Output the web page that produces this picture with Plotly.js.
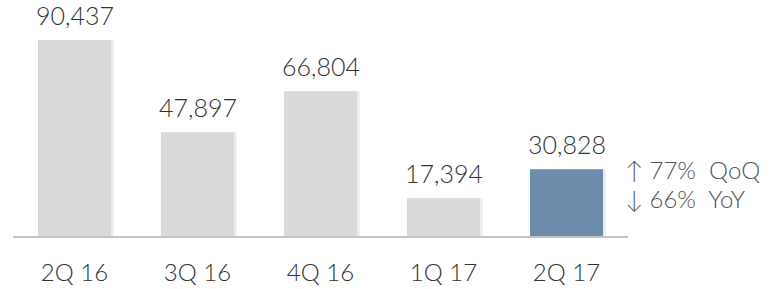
<!DOCTYPE html>
<html><head><meta charset="utf-8">
<script src="https://cdn.plot.ly/plotly-3.0.1.min.js"></script>
<style>body{margin:0;background:#fff}#c{width:776px;height:289px}</style>
</head><body><div id="c"></div>
<script>
const quarters = ["2Q 16", "3Q 16", "4Q 16", "1Q 17", "2Q 17"];
const values = [90437, 47897, 66804, 17394, 30828];
const barColors = ["#d9d9d9", "#d9d9d9", "#d9d9d9", "#d9d9d9", "#6e8daa"];
const changeNotes = ["↑ 77%  QoQ", "↓ 66%  YoY"];

const FONT = "Lato, 'Open Sans', sans-serif";
const fmt = v => v.toLocaleString("en-US");

const shadow = {
  type: "bar", x: quarters, y: values,
  marker: {color: "rgba(0,0,0,0.07)", line: {width: 0}},
  offset: -0.29, width: 0.61,
  hoverinfo: "skip", showlegend: false
};
const bars = {
  type: "bar", x: quarters, y: values,
  marker: {color: barColors, line: {width: 0}},
  width: 0.594,
  hoverinfo: "skip", showlegend: false
};

const annotations = quarters.map((q, i) => ({
  x: q, y: values[i], xref: "x", yref: "y",
  text: fmt(values[i]), showarrow: false,
  yanchor: "bottom", yshift: 8,
  font: {family: FONT, size: 25, color: "#333333", weight: 300}
}));
changeNotes.forEach((t, i) => annotations.push({
  x: 1, xref: "paper", xanchor: "left", xshift: -5,
  y: values[4], yref: "y", yanchor: "middle", yshift: -(i * 29),
  text: t, showarrow: false, align: "left",
  font: {family: FONT, size: 24, color: "#555555", weight: 300}
}));

const layout = {
  width: 776, height: 289,
  margin: {l: 13, r: 148, t: 10, b: 53},
  paper_bgcolor: "#ffffff", plot_bgcolor: "#ffffff",
  barmode: "overlay",
  xaxis: {
    type: "category", showline: true, linecolor: "#c3c3c3", linewidth: 2,
    ticks: "", showgrid: false, zeroline: false, ticklabelstandoff: 14,
    tickfont: {family: FONT, size: 24, color: "#333333", weight: 300}
  },
  yaxis: {range: [0, 104300], visible: false, showgrid: false, zeroline: false},
  annotations: annotations
};
Plotly.newPlot("c", [shadow, bars], layout, {displayModeBar: false, staticPlot: true});
</script></body></html>
